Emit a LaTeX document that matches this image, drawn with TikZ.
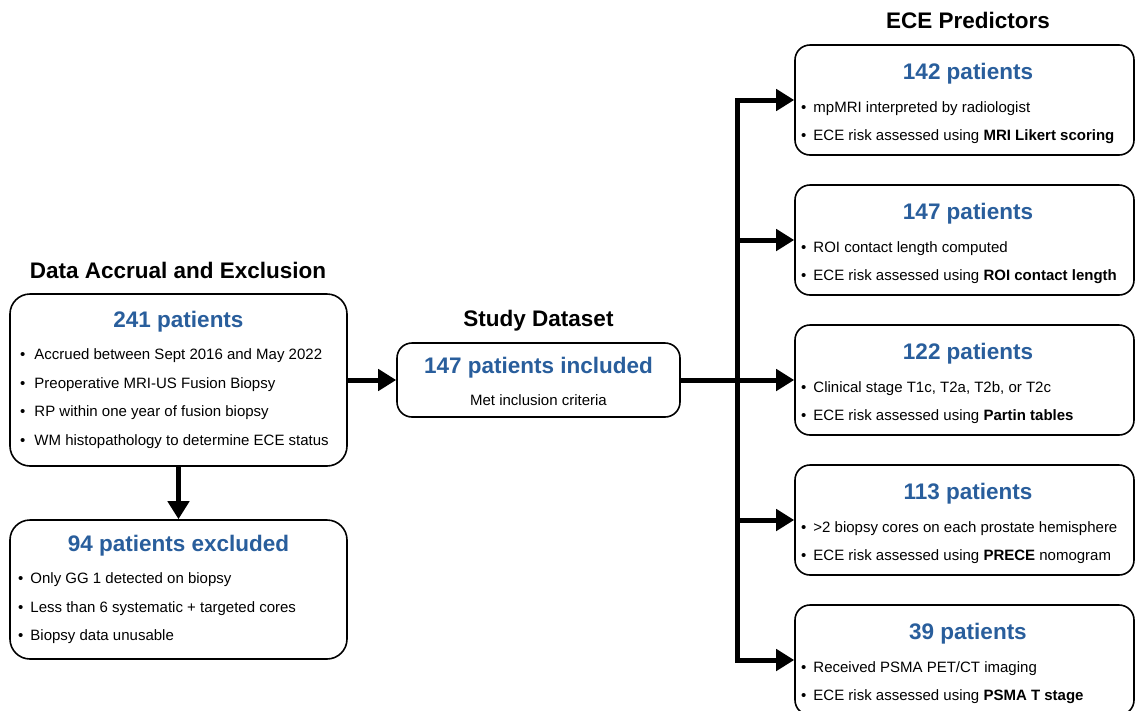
\documentclass[tikz,border=0pt]{standalone}
\usepackage{fontspec}
\setmainfont{Liberation Sans}
\usetikzlibrary{arrows.meta}
\definecolor{ttlblue}{RGB}{41,94,156}
\tikzset{
  box/.style={draw=black, line width=1.6pt, fill=white, rectangle, inner sep=0pt},
  bigbox/.style={box, rounded corners=20pt},
  smallbox/.style={box, rounded corners=15pt},
  hdr/.style={font=\fontsize{22.5}{26}\selectfont\bfseries, anchor=base, inner sep=0pt},
  btitle/.style={font=\fontsize{22.5}{26}\selectfont\bfseries, text=ttlblue, anchor=base, inner sep=0pt},
  item/.style={font=\fontsize{15}{18}\selectfont, anchor=base west, inner sep=0pt},
  arr/.style={line width=5pt, -{Triangle[length=18pt,width=21pt]}},
  trunk/.style={line width=5pt, line join=miter},
}
\newcommand{\bul}[1]{\textbullet\hspace{#1}}
\begin{document}
\begin{tikzpicture}[x=1pt,y=-1pt]
\useasboundingbox (0,0) rectangle (1135,710);
\clip (0,0) rectangle (1135,710);

% ---- left column ----
\node[hdr] (h1) at (178,278) {Data Accrual and Exclusion};
\node[bigbox, minimum width=337pt, minimum height=172pt] (acc) at (178.5,380) {};
\node[btitle] (acct) at (178.5,327) {241 patients};
\node[item] (a1) at (20,359) {\bul{9pt}Accrued between Sept 2016 and May 2022};
\node[item] (a2) at (20,388) {\bul{9pt}Preoperative MRI-US Fusion Biopsy};
\node[item] (a3) at (20,416) {\bul{9pt}RP within one year of fusion biopsy};
\node[item] (a4) at (20,445) {\bul{9pt}WM histopathology to determine ECE status};

\node[bigbox, minimum width=337pt, minimum height=139pt] (exc) at (178.5,589.5) {};
\node[btitle] (exct) at (178.5,551) {94 patients excluded};
\node[item] (e1) at (18,583) {\bul{7pt}Only GG 1 detected on biopsy};
\node[item] (e2) at (18,612) {\bul{7pt}Less than 6 systematic + targeted cores};
\node[item] (e3) at (18,640) {\bul{7pt}Biopsy data unusable};

% ---- middle ----
\node[hdr] (h2) at (538.5,326) {Study Dataset};
\node[smallbox, minimum width=283pt, minimum height=74pt] (study) at (538.5,380) {};
\node[btitle] (studyt) at (538.5,373) {147 patients included};
\node[item, anchor=base] (s1) at (538.5,405) {Met inclusion criteria};

% ---- right column ----
\node[hdr] (h3) at (968,28) {ECE Predictors};
\foreach \i/\c in {1/100,2/240,3/380,4/520,5/660}{
  \node[smallbox, minimum width=339pt, minimum height=110pt] (b\i) at (964.5,\c) {};
}
\node[btitle] (b1t) at (968,79) {142 patients};
\node[item] (b1a) at (801,112) {\bul{7pt}mpMRI interpreted by radiologist};
\node[item] (b1b) at (801,140) {\bul{7pt}ECE risk assessed using \textbf{MRI Likert scoring}};

\node[btitle] (b2t) at (968,219) {147 patients};
\node[item] (b2a) at (801,252) {\bul{7pt}ROI contact length computed};
\node[item] (b2b) at (801,280) {\bul{7pt}ECE risk assessed using \textbf{ROI contact length}};

\node[btitle] (b3t) at (968,359) {122 patients};
\node[item] (b3a) at (801,392) {\bul{7pt}Clinical stage T1c, T2a, T2b, or T2c};
\node[item] (b3b) at (801,420) {\bul{7pt}ECE risk assessed using \textbf{Partin tables}};

\node[btitle] (b4t) at (968,499) {113 patients};
\node[item] (b4a) at (801,532) {\bul{7pt}>2 biopsy cores on each prostate hemisphere};
\node[item] (b4b) at (801,560) {\bul{7pt}ECE risk assessed using \textbf{PRECE} nomogram};

\node[btitle] (b5t) at (968,639) {39 patients};
\node[item] (b5a) at (801,672) {\bul{7pt}Received PSMA PET/CT imaging};
\node[item] (b5b) at (801,700) {\bul{7pt}ECE risk assessed using \textbf{PSMA T stage}};

% ---- connectors ----
\coordinate (t1) at (737,100);
\coordinate (t2) at (737,240);
\coordinate (t4) at (737,520);
\coordinate (t5) at (737,660);

\draw[arr] (acc.east) -- (study.west);
\draw[arr] (acc.south) -- (exc.north);
\draw[trunk, {Triangle[length=18pt,width=21pt]}-{Triangle[length=18pt,width=21pt]}]
  (b1.west) -- (t1) -- (t5) -- (b5.west);
\draw[arr] (t2) -- (b2.west);
\draw[arr] (study.east) -- (b3.west);
\draw[arr] (t4) -- (b4.west);
\end{tikzpicture}
\end{document}
